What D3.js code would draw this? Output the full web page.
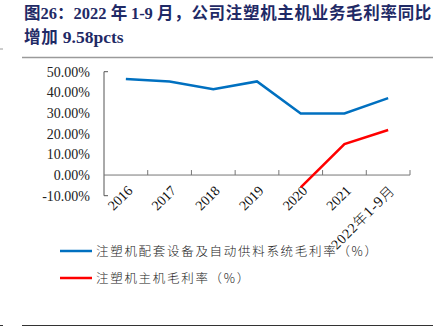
<!DOCTYPE html>
<html><head><meta charset="utf-8">
<script src="https://cdn.jsdelivr.net/npm/d3@7/dist/d3.min.js"></script>
<style>body{margin:0;background:#fff;}svg{display:block;}</style>
</head><body>
<svg id="c" width="439" height="330"></svg>
<script>
const categories = ["2016","2017","2018","2019","2020","2021","2022年1-9月"];
const seriesNames = ["注塑机配套设备及自动供料系统毛利率（%）","注塑机主机毛利率（%）"];
const blueValues = [46.5, 45.3, 41.5, 45.3, 29.8, 29.8, 37.2];
const redValues = [null, null, null, null, -6.0, 15.0, 21.8];
const yTicks = [-10, 0, 10, 20, 30, 40, 50];

const svg = d3.select("#c");
const serif = "'Liberation Serif','DejaVu Serif',serif";
const cjk = "'Noto Sans CJK SC',sans-serif";

// title
const tcol = "#1f2a66";
const t1 = svg.append("text").attr("x",24).attr("y",19).attr("fill",tcol).attr("font-weight","bold").attr("font-size",16.5);
t1.append("tspan").attr("font-family",cjk).text("图");
t1.append("tspan").attr("font-family",serif).text("26");
t1.append("tspan").attr("font-family",cjk).text("：");
t1.append("tspan").attr("font-family",serif).text("2022 ");
t1.append("tspan").attr("font-family",cjk).text("年 ");
t1.append("tspan").attr("font-family",serif).text("1-9 ");
const tail = t1.append("tspan").attr("font-family",cjk).text("月，公司注塑机主机业务毛利率同比");
const w0 = t1.node().getBBox().width;
const ls = Math.max(0, (432 - 24 - w0) / 16);
tail.attr("letter-spacing", ls);
const t2 = svg.append("text").attr("x",24).attr("y",43).attr("fill",tcol).attr("font-weight","bold").attr("font-size",16.5);
t2.append("tspan").attr("font-family",cjk).attr("letter-spacing",ls).text("增加 ");
t2.append("tspan").attr("font-family",serif).attr("font-size",17.5).attr("font-weight","bold").text("9.58pcts");

svg.append("line").attr("x1",22).attr("x2",433).attr("y1",57.5).attr("y2",57.5).attr("stroke","#9a9a9a").attr("stroke-width",1.5);
svg.append("line").attr("x1",0).attr("x2",3).attr("y1",49).attr("y2",49).attr("stroke","#9a9a9a").attr("stroke-width",1);
svg.append("line").attr("x1",22).attr("x2",433).attr("y1",325.5).attr("y2",325.5).attr("stroke","#333").attr("stroke-width",1.2);
svg.append("line").attr("x1",0).attr("x2",3).attr("y1",325.5).attr("y2",325.5).attr("stroke","#333").attr("stroke-width",1);

const x = d3.scaleBand().domain(categories).range([104,410]);
const y = d3.scaleLinear().domain([-10,50]).range([195.7,71.7]);

// y axis
const yAxis = svg.append("g").attr("transform","translate(104,0)")
  .call(d3.axisLeft(y).tickValues(yTicks).tickSize(6).tickPadding(8).tickFormat(d=>d.toFixed(2)+"%"));
yAxis.select(".domain").attr("stroke","#555").attr("d","M4,"+y(50)+"H0V"+y(-10)+"H4");
yAxis.selectAll(".tick line").remove();
yAxis.selectAll("text").attr("font-family",serif).attr("font-size",14).attr("fill","#222").attr("x",-14);

// x axis at 0
const xAxis = svg.append("g").attr("transform","translate(0,"+y(0)+")")
  .call(d3.axisBottom(x).tickSize(0).tickFormat(""));
xAxis.select(".domain").attr("stroke","#777").attr("d","M104,0H410");
const boundaries = categories.map((c,i)=>x(c)+x.bandwidth());
xAxis.selectAll(".bt").data(boundaries).enter().append("line")
  .attr("x1",d=>d).attr("x2",d=>d).attr("y1",0).attr("y2",-5).attr("stroke","#777");
const lab = svg.append("g");
categories.forEach(c=>{
  const cx = x(c)+x.bandwidth()/2;
  const t = lab.append("text").attr("transform","translate("+(cx+4)+","+(y(0)+13)+") rotate(-45)")
    .attr("text-anchor","end").attr("font-size",14).attr("fill","#111").attr("dy","0.35em");
  const m = c.match(/^(\d+)(年)?([\d-]+)?(月)?$/);
  t.append("tspan").attr("font-family",serif).text(m[1]);
  if(m[2]){
    t.attr("letter-spacing",0.8);
    t.append("tspan").attr("font-family",cjk).attr("font-size",14).attr("font-weight",300).text(m[2]);
    t.append("tspan").attr("font-family",serif).attr("font-size",15).text(m[3]);
    t.append("tspan").attr("font-family",cjk).attr("font-size",14).attr("font-weight",300).text(m[4]);
  }
});

// lines
const line = d3.line().defined(d=>d.v!=null).x(d=>x(d.c)+x.bandwidth()/2).y(d=>y(d.v));
svg.append("path").datum(categories.map((c,i)=>({c,v:blueValues[i]})))
  .attr("d",line).attr("fill","none").attr("stroke","#0070c0").attr("stroke-width",2.5);
svg.append("path").datum(categories.map((c,i)=>({c,v:redValues[i]})))
  .attr("d",line).attr("fill","none").attr("stroke","#ff0000").attr("stroke-width",2.5);

// legend
const lg = [{n:seriesNames[0],c:"#0070c0",y:251},{n:seriesNames[1],c:"#ff0000",y:278}];
lg.forEach(d=>{
  svg.append("line").attr("x1",60).attr("x2",92).attr("y1",d.y).attr("y2",d.y).attr("stroke",d.c).attr("stroke-width",2.5);
  svg.append("text").attr("x",96).attr("y",d.y).attr("dy","0.36em").attr("font-family",cjk).attr("font-weight",300)
    .attr("font-size",12.5).attr("letter-spacing",1.7).attr("fill","#222").text(d.n);
});
</script>
</body></html>
